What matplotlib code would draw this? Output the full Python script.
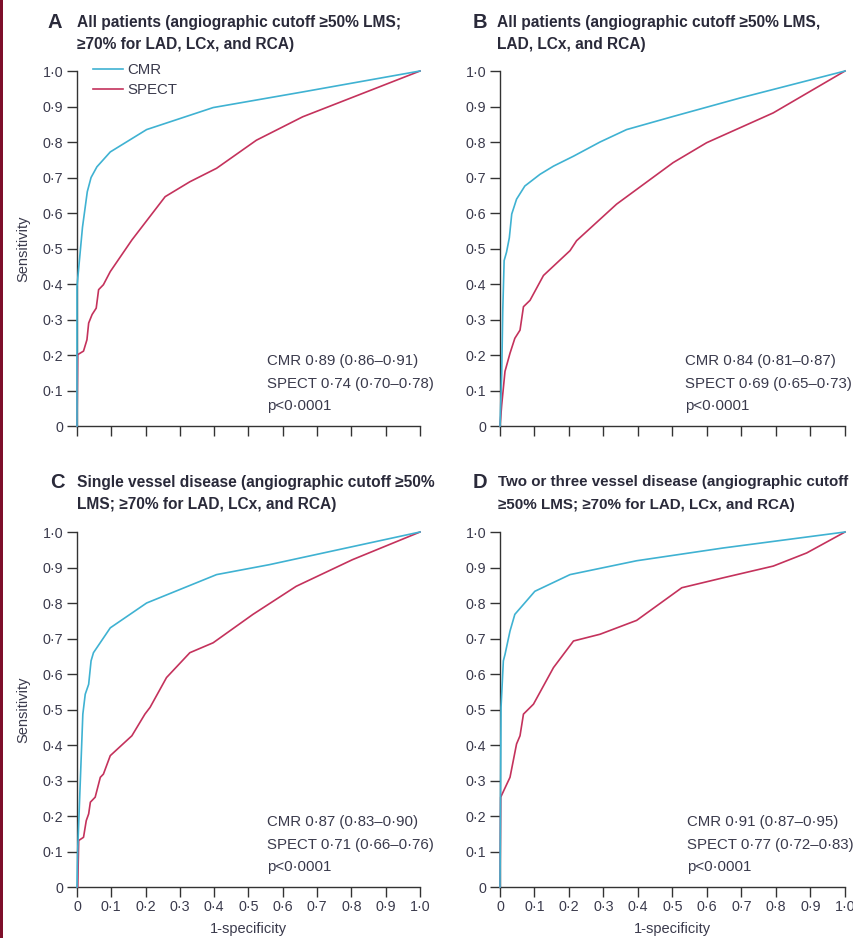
import matplotlib
matplotlib.use("Agg")
import matplotlib.pyplot as plt
from matplotlib.patches import Rectangle

# ROC curves: (1-specificity, sensitivity)
cmr_a_x = [0, 0.0, 0.016, 0.030, 0.041, 0.058, 0.097, 0.203, 0.397, 0.658, 1.0]
cmr_a_y = [0, 0.393, 0.56, 0.66, 0.70, 0.73, 0.772, 0.835, 0.897, 0.941, 1.0]
spect_a_x = [0, 0.002, 0.019, 0.029, 0.034, 0.044, 0.056, 0.063, 0.077, 0.097, 0.160, 0.257, 0.329, 0.407, 0.523, 0.658, 1.0]
spect_a_y = [0, 0.201, 0.211, 0.243, 0.29, 0.314, 0.332, 0.384, 0.398, 0.435, 0.524, 0.646, 0.688, 0.726, 0.805, 0.871, 1.0]

cmr_b_x = [0, 0.005, 0.008, 0.012, 0.019, 0.027, 0.034, 0.048, 0.072, 0.116, 0.155, 0.213, 0.29, 0.367, 0.502, 0.696, 1.0]
cmr_b_y = [0, 0.149, 0.326, 0.466, 0.49, 0.53, 0.597, 0.639, 0.676, 0.709, 0.732, 0.76, 0.80, 0.835, 0.872, 0.924, 1.0]
spect_b_x = [0, 0.005, 0.0145, 0.029, 0.043, 0.058, 0.068, 0.087, 0.126, 0.203, 0.222, 0.338, 0.502, 0.599, 0.792, 1.0]
spect_b_y = [0, 0.06, 0.154, 0.205, 0.247, 0.27, 0.336, 0.354, 0.424, 0.494, 0.522, 0.625, 0.742, 0.798, 0.882, 1.0]

cmr_c_x = [0, 0.002, 0.0097, 0.017, 0.024, 0.034, 0.041, 0.048, 0.097, 0.203, 0.407, 0.561, 1.0]
cmr_c_y = [0, 0.103, 0.30, 0.487, 0.543, 0.571, 0.637, 0.66, 0.73, 0.80, 0.88, 0.908, 1.0]
spect_c_x = [0.002, 0.005, 0.019, 0.027, 0.034, 0.039, 0.053, 0.068, 0.077, 0.097, 0.160, 0.198, 0.213, 0.261, 0.329, 0.397, 0.513, 0.639, 0.803, 1.0]
spect_c_y = [0, 0.131, 0.14, 0.187, 0.206, 0.239, 0.253, 0.309, 0.318, 0.37, 0.426, 0.487, 0.506, 0.59, 0.66, 0.688, 0.768, 0.847, 0.922, 1.0]

cmr_d_x = [0, 0.003, 0.0097, 0.0145, 0.029, 0.043, 0.068, 0.101, 0.203, 0.396, 0.647, 1.0]
cmr_d_y = [0, 0.506, 0.637, 0.655, 0.721, 0.768, 0.796, 0.833, 0.88, 0.919, 0.955, 1.0]
spect_d_x = [0, 0.002, 0.029, 0.048, 0.058, 0.068, 0.097, 0.155, 0.213, 0.29, 0.396, 0.527, 0.647, 0.792, 0.889, 1.0]
spect_d_y = [0, 0.253, 0.309, 0.403, 0.426, 0.487, 0.515, 0.618, 0.693, 0.712, 0.751, 0.843, 0.871, 0.904, 0.941, 1.0]

letters = ["A", "B", "C", "D"]
titles = [
    ["All patients (angiographic cutoff \u226550% LMS;", "\u226570% for LAD, LCx, and RCA)"],
    ["All patients (angiographic cutoff \u226550% LMS,", "LAD, LCx, and RCA)"],
    ["Single vessel disease (angiographic cutoff \u226550%", "LMS; \u226570% for LAD, LCx, and RCA)"],
    ["Two or three vessel disease (angiographic cutoff", "\u226550% LMS; \u226570% for LAD, LCx, and RCA)"],
]
stats = [
    ["CMR 0\u00b789 (0\u00b786\u20130\u00b791)", "SPECT 0\u00b774 (0\u00b770\u20130\u00b778)", "p<0\u00b70001"],
    ["CMR 0\u00b784 (0\u00b781\u20130\u00b787)", "SPECT 0\u00b769 (0\u00b765\u20130\u00b773)", "p<0\u00b70001"],
    ["CMR 0\u00b787 (0\u00b783\u20130\u00b790)", "SPECT 0\u00b771 (0\u00b766\u20130\u00b776)", "p<0\u00b70001"],
    ["CMR 0\u00b791 (0\u00b787\u20130\u00b795)", "SPECT 0\u00b777 (0\u00b772\u20130\u00b783)", "p<0\u00b70001"],
]
ticks = [0, 0.1, 0.2, 0.3, 0.4, 0.5, 0.6, 0.7, 0.8, 0.9, 1.0]
tick_labels = ["0", "0\u00b71", "0\u00b72", "0\u00b73", "0\u00b74", "0\u00b75",
               "0\u00b76", "0\u00b77", "0\u00b78", "0\u00b79", "1\u00b70"]

cmr_curves = [(cmr_a_x, cmr_a_y), (cmr_b_x, cmr_b_y), (cmr_c_x, cmr_c_y), (cmr_d_x, cmr_d_y)]
spect_curves = [(spect_a_x, spect_a_y), (spect_b_x, spect_b_y), (spect_c_x, spect_c_y), (spect_d_x, spect_d_y)]

CMR_COL = "#3fb2d2"
SPECT_COL = "#c4325c"
TXT = "#3a3a4c"
AX_COL = "#333333"
W, H = 854, 938

plt.rcParams["font.family"] = ["Liberation Sans", "DejaVu Sans"]

fig = plt.figure(figsize=(W / 100, H / 100), dpi=100)


def fx(px):
    return px / W


def fy(py):
    return 1 - py / H


# axes boxes in pixels: left, right, top, bottom
boxes = [(77, 420, 71, 426), (500, 845, 71, 426), (77, 420, 532, 887), (500, 845, 532, 887)]
title_y = [(22, 45), (22, 45), (482, 505), (482, 505)]
letter_x = [48, 473, 50, 473]
text_x = [77, 497, 77, 498]
stats_x = [0.554, 0.536, 0.554, 0.542]
title_size = [11.2, 11.2, 11.2, 10.9]

for i, (l, r, t, b) in enumerate(boxes):
    ax = fig.add_axes([fx(l), fy(b), (r - l) / W, (b - t) / H])
    ax.plot(*spect_curves[i], color=SPECT_COL, lw=1.2, clip_on=False, label="SPECT", zorder=3)
    ax.plot(*cmr_curves[i], color=CMR_COL, lw=1.2, clip_on=False, label="CMR", zorder=4)
    ax.set_xlim(0, 1)
    ax.set_ylim(0, 1)
    for s in ["top", "right"]:
        ax.spines[s].set_visible(False)
    for s in ["left", "bottom"]:
        ax.spines[s].set_color(AX_COL)
        ax.spines[s].set_linewidth(1.0)
    ax.set_yticks(ticks)
    ax.set_yticklabels(tick_labels)
    ax.set_xticks(ticks)
    bottom_row = i >= 2
    ax.set_xticklabels(tick_labels if bottom_row else [])
    ax.tick_params(axis="both", direction="out", length=7, width=1.0, color=AX_COL,
                   labelsize=10.3, labelcolor=TXT)
    ax.tick_params(axis="y", pad=3)
    ax.tick_params(axis="x", pad=2)
    if i % 2 == 0:
        ax.set_ylabel("Sensitivity", fontsize=10.5, color=TXT, labelpad=9)
    if bottom_row:
        ax.set_xlabel("1-specificity", fontsize=10.5, color=TXT, labelpad=6)
    for k, line in enumerate(stats[i]):
        ax.text(stats_x[i], 0.183 - k * 0.0635, line, transform=ax.transAxes, fontsize=10.8,
                color=TXT, ha="left", va="center", clip_on=False)
    if i == 0:
        h, lab = ax.get_legend_handles_labels()
        ax.legend(h[::-1], lab[::-1], loc="upper left", bbox_to_anchor=(0.047, 1.022),
                  frameon=False, fontsize=10.8, handlelength=2.0, handletextpad=0.3,
                  labelspacing=0.42, borderpad=0, borderaxespad=0, labelcolor=TXT)

    fig.text(fx(letter_x[i]), fy(title_y[i][0]), letters[i], fontsize=14.5, fontweight="bold",
             color="#2a2a3a", ha="left", va="center")
    for k, line in enumerate(titles[i]):
        fig.text(fx(text_x[i]), fy(title_y[i][k]), line, fontsize=title_size[i], fontweight="bold",
                 color="#2a2a3a", ha="left", va="center")

# dark red edge on the left of the page
fig.add_artist(Rectangle((0, 0), 3 / W, 1, transform=fig.transFigure, color="#7e0f2a", lw=0))

fig.savefig("out.png", dpi=100)
